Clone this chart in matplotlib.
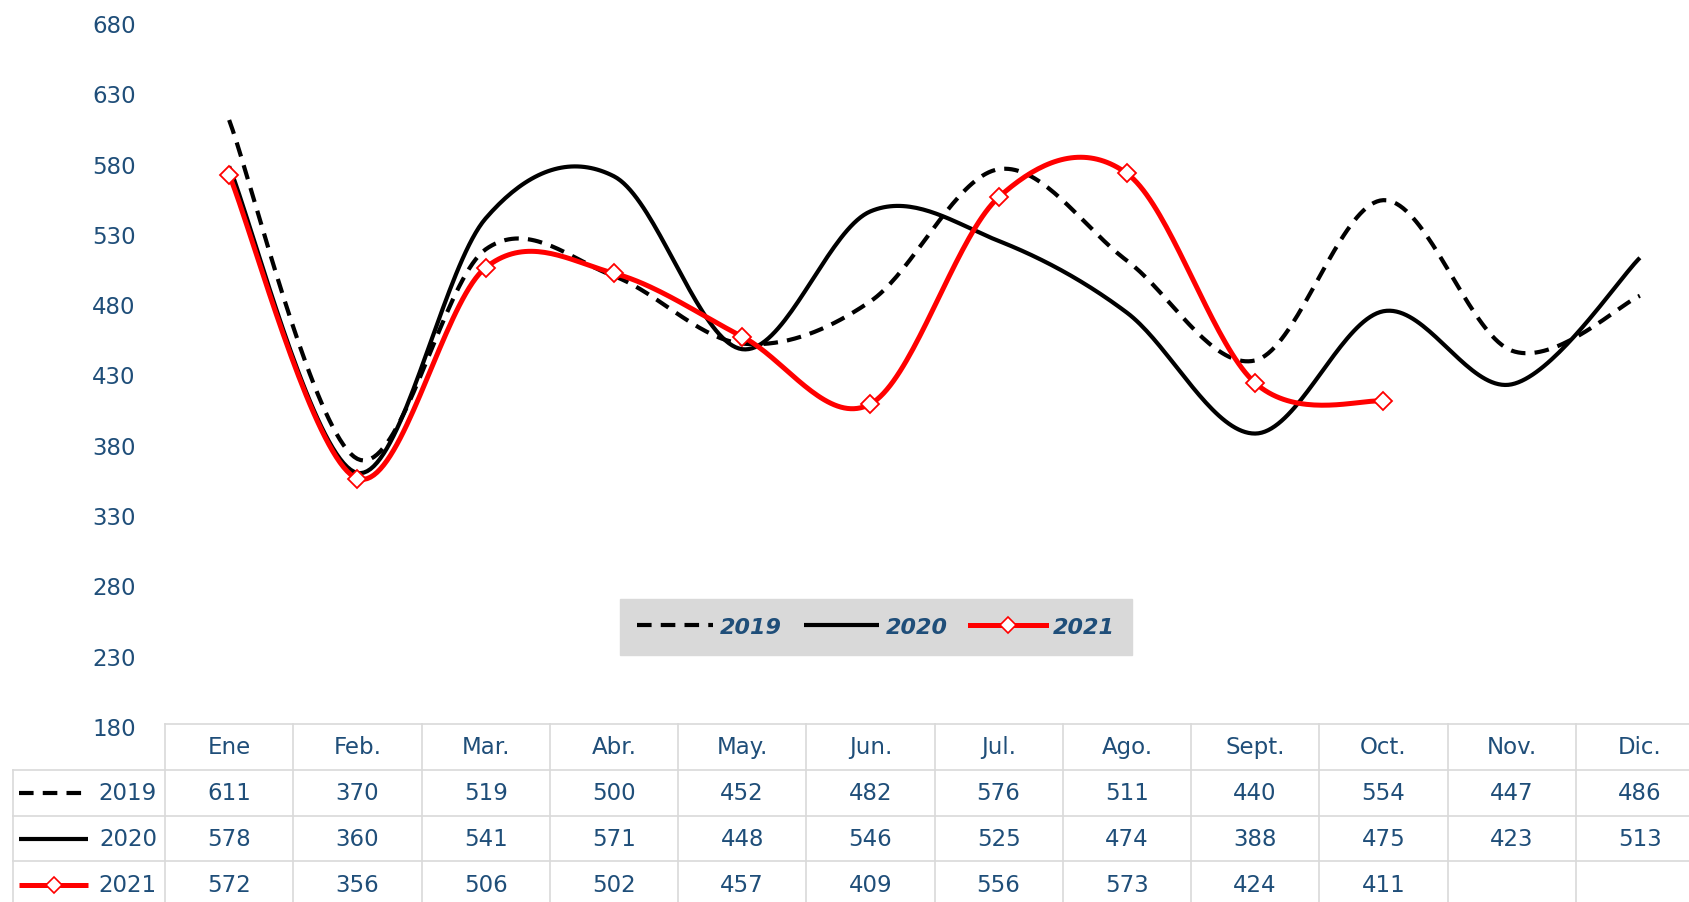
import numpy as np
import matplotlib.pyplot as plt
from matplotlib.lines import Line2D
from matplotlib import transforms

# data
months = ['Ene', 'Feb.', 'Mar.', 'Abr.', 'May.', 'Jun.', 'Jul.', 'Ago.', 'Sept.', 'Oct.', 'Nov.', 'Dic.']
years = ['2019', '2020', '2021']
v2019 = [611, 370, 519, 500, 452, 482, 576, 511, 440, 554, 447, 486]
v2020 = [578, 360, 541, 571, 448, 546, 525, 474, 388, 475, 423, 513]
v2021 = [572, 356, 506, 502, 457, 409, 556, 573, 424, 411, None, None]
yticks = list(range(180, 681, 50))

blue = '#1F4E79'
grid = '#D9D9D9'
W, H = 1689, 903


def smooth(ys, n=40):
    # excel-like smoothed line (bezier, control points from neighbours)
    pts = [(i, y) for i, y in enumerate(ys) if y is not None]
    P = np.array(pts, dtype=float)
    out = []
    for i in range(len(P) - 1):
        p0 = P[i - 1] if i > 0 else P[i]
        p1, p2 = P[i], P[i + 1]
        p3 = P[i + 2] if i + 2 < len(P) else P[i + 1]
        c1 = p1 + (p2 - p0) / 6
        c2 = p2 - (p3 - p1) / 6
        t = np.linspace(0, 1, n)[:, None]
        seg = (1 - t) ** 3 * p1 + 3 * (1 - t) ** 2 * t * c1 + 3 * (1 - t) * t ** 2 * c2 + t ** 3 * p2
        out.append(seg if i == 0 else seg[1:])
    out = np.vstack(out)
    return out[:, 0], out[:, 1], P


fig = plt.figure(figsize=(W / 100, H / 100), dpi=100)
ax = fig.add_axes([165 / W, 176 / H, 1539 / W, 703 / H])

styles = [
    dict(color='black', lw=3.0, dashes=(3.5, 2.2)),
    dict(color='black', lw=3.0),
    dict(color='red', lw=3.6),
]

for vals, st in zip([v2019, v2020, v2021], styles):
    x, y, P = smooth(vals)
    ax.plot(x, y, solid_capstyle='butt', **st)
ax.plot([i for i, v in enumerate(v2021) if v is not None], [v for v in v2021 if v is not None],
        ls='none', marker='D', ms=9.5, mfc='white', mec='red', mew=1.3)

ax.set_xlim(-0.5, len(months) - 0.5)
ax.set_ylim(180, 680)
ax.set_yticks(yticks)
ax.set_xticks([])
ax.tick_params(axis='y', length=0, pad=21, labelsize=16.5, labelcolor=blue)
for s in ax.spines.values():
    s.set_visible(False)

# data table
def fy(px):
    return 1 - px / H

bt = transforms.blended_transform_factory(ax.transData, fig.transFigure)
rows_y = [725, 771, 817, 862, 910]
n = len(months)

fig.add_artist(Line2D([165 / W, 1], [fy(725)] * 2, color=grid, lw=1.2))
for ry in rows_y[1:4]:
    fig.add_artist(Line2D([13 / W, 1], [fy(ry)] * 2, color=grid, lw=1.2))
fig.add_artist(Line2D([13 / W] * 2, [fy(771), fy(910)], color=grid, lw=1.2))
for k in range(n + 1):
    fig.add_artist(Line2D([k - 0.5] * 2, [fy(725), fy(910)], color=grid, lw=1.2,
                          transform=bt, clip_on=False))

for i, m in enumerate(months):
    fig.text(i, fy(748), m, transform=bt, ha='center', va='center', fontsize=16.5, color=blue)

for r, (vals, yr, st) in enumerate(zip([v2019, v2020, v2021], years, styles)):
    cy = fy((rows_y[r + 1] + rows_y[r + 2]) / 2)
    for i, v in enumerate(vals):
        if v is not None:
            fig.text(i, cy, str(v), transform=bt, ha='center', va='center', fontsize=16.5, color=blue)
    fig.text(157 / W, cy, yr, ha='right', va='center', fontsize=16.5, color=blue)
    key = Line2D([19 / W, 88 / W], [cy, cy], solid_capstyle='butt', **st)
    fig.add_artist(key)
    if r == 2:
        fig.add_artist(Line2D([53.5 / W], [cy], marker='D', ms=8, mfc='white', mec='red', mew=1.2))

# legend
handles = [Line2D([], [], solid_capstyle='butt', **styles[0]),
           Line2D([], [], solid_capstyle='butt', **styles[1]),
           Line2D([], [], marker='D', ms=8, mfc='white', mec='red', mew=1.2, **styles[2])]
leg = fig.legend(handles, years, loc='center', bbox_to_anchor=(876 / W, fy(628)), ncol=3,
                 frameon=True, fancybox=False, facecolor=grid, edgecolor=grid, framealpha=1,
                 handlelength=3.4, columnspacing=1.0, handletextpad=0.3, borderpad=0.8,
                 borderaxespad=0, prop=dict(size=16, style='italic', weight='bold'))
for t in leg.get_texts():
    t.set_color(blue)

fig.savefig('out.png', dpi=100)
